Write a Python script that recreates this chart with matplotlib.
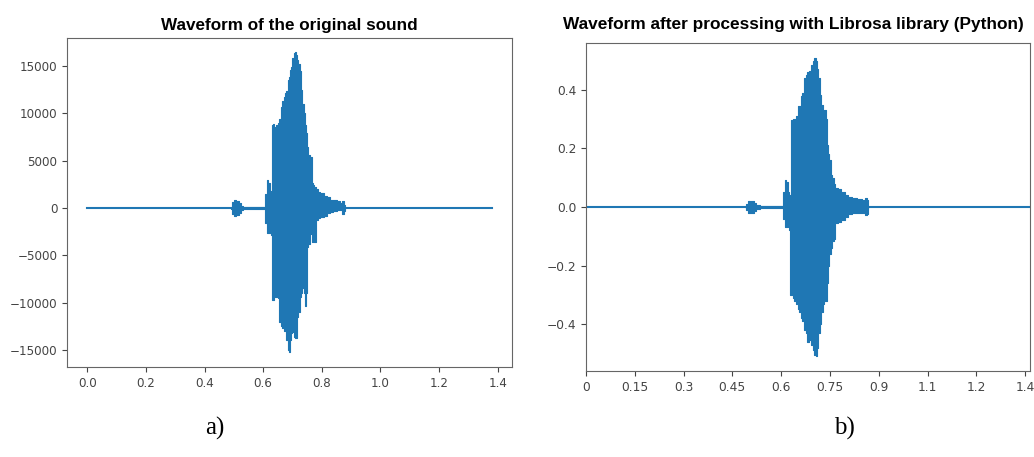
import matplotlib
matplotlib.use("Agg")
import matplotlib.pyplot as plt

# envelope of the original waveform (int16 amplitude)
orig_t = [0.490, 0.492, 0.497, 0.503, 0.510, 0.516, 0.521, 0.526, 0.535, 0.550, 0.580, 0.605,
          0.611, 0.615, 0.620, 0.625, 0.630, 0.632, 0.636, 0.641, 0.647, 0.652, 0.657, 0.662,
          0.667, 0.672, 0.677, 0.682, 0.687, 0.690, 0.694, 0.698, 0.702, 0.706, 0.710, 0.714,
          0.718, 0.722, 0.727, 0.731, 0.736, 0.740, 0.744, 0.748, 0.752, 0.757, 0.761, 0.764,
          0.767, 0.772, 0.777, 0.781, 0.790, 0.800, 0.812, 0.823, 0.834, 0.845, 0.856, 0.866,
          0.872, 0.877, 0.879]
orig_top = [0, 150, 650, 800, 780, 700, 500, 250, 150, 120, 100, 110,
            1500, 2950, 2600, 1700, 1800, 8760, 8900, 8600, 8800, 9000, 9400, 10700,
            11300, 11700, 12200, 12400, 13500, 13800, 14600, 14900, 15900, 16400, 16500, 16200,
            15600, 15200, 14500, 12500, 11000, 10000, 8800, 7900, 6500, 5600, 5400, 5400,
            2600, 2400, 2250, 2000, 1720, 1600, 1300, 1150, 850, 800, 750, 550,
            700, 300, 0]
orig_bot = [0, -150, -650, -800, -780, -700, -500, -250, -150, -120, -100, -110,
            -1600, -2600, -2600, -2640, -2800, -9700, -9700, -9400, -9400, -9500, -12000, -12500,
            -12700, -13000, -13000, -13900, -15000, -15200, -14000, -13200, -13100, -13600, -13700, -13700,
            -11500, -11000, -9400, -9000, -8500, -9000, -10400, -9000, -4100, -3800, -2640, -2700,
            -3560, -3500, -3560, -1270, -1100, -1000, -800, -560, -450, -350, -250, -250,
            -600, -300, 0]

# envelope after librosa load (float amplitude)
lib_t = [0.490, 0.494, 0.500, 0.507, 0.514, 0.520, 0.528, 0.540, 0.575, 0.605,
         0.609, 0.613, 0.618, 0.622, 0.627, 0.630, 0.633, 0.638, 0.643, 0.648,
         0.653, 0.658, 0.663, 0.668, 0.673, 0.678, 0.684, 0.689, 0.694, 0.699,
         0.704, 0.708, 0.712, 0.716, 0.720, 0.725, 0.730, 0.735, 0.739, 0.743,
         0.747, 0.750, 0.754, 0.759, 0.764, 0.769, 0.780, 0.790, 0.800, 0.812,
         0.825, 0.840, 0.855, 0.862, 0.866, 0.869]
lib_top = [0.0, 0.010, 0.020, 0.022, 0.020, 0.012, 0.006, 0.004, 0.003, 0.004,
           0.050, 0.092, 0.085, 0.050, 0.041, 0.040, 0.297, 0.300, 0.300, 0.310,
           0.345, 0.345, 0.380, 0.390, 0.440, 0.450, 0.460, 0.465, 0.485, 0.500,
           0.510, 0.500, 0.470, 0.440, 0.383, 0.350, 0.326, 0.330, 0.300, 0.212,
           0.180, 0.160, 0.110, 0.100, 0.080, 0.065, 0.060, 0.050, 0.042, 0.035,
           0.032, 0.028, 0.025, 0.030, 0.024, 0.0]
lib_bot = [0.0, -0.010, -0.020, -0.022, -0.020, -0.012, -0.006, -0.004, -0.003, -0.004,
           -0.040, -0.068, -0.070, -0.060, -0.080, -0.300, -0.300, -0.310, -0.320, -0.330,
           -0.350, -0.360, -0.380, -0.390, -0.420, -0.430, -0.460, -0.455, -0.470, -0.490,
           -0.505, -0.510, -0.480, -0.430, -0.400, -0.360, -0.330, -0.320, -0.320, -0.260,
           -0.200, -0.160, -0.140, -0.115, -0.110, -0.056, -0.050, -0.045, -0.035, -0.025,
           -0.022, -0.020, -0.020, -0.028, -0.024, 0.0]

duration = [0.0, 1.38]
silence = [0.0, 0.0]

lib_ticks = [0, 0.15, 0.30, 0.45, 0.60, 0.75, 0.90, 1.05, 1.20, 1.35]
lib_ticklabels = ["0", "0.15", "0.3", "0.45", "0.6", "0.75", "0.9", "1.1", "1.2", "1.4"]

blue = "#1f77b4"
tick_col = "#444444"
title_font = ["Liberation Sans", "DejaVu Sans"]
serif_font = ["Liberation Serif", "DejaVu Serif"]

fig = plt.figure(figsize=(10.34, 4.57), dpi=100)

# a) original sound
ax1 = fig.add_axes([0.0648, 0.197, 0.4304, 0.72])
ax1.plot(duration, silence, color=blue, lw=1.5)
ax1.fill_between(orig_t, orig_bot, orig_top, step="mid", color=blue, lw=0.8, edgecolor=blue)
ax1.set_xlim(-0.069, 1.449)
ax1.set_ylim(-16800, 17980)
ax1.set_xticks([0.0, 0.2, 0.4, 0.6, 0.8, 1.0, 1.2, 1.4])
ax1.set_yticks([-15000, -10000, -5000, 0, 5000, 10000, 15000])
ax1.set_title("Waveform of the original sound", fontsize=12.3, fontweight="bold",
              family=title_font, pad=6)
ax1.tick_params(labelsize=8.6, colors=tick_col)

# b) after librosa
ax2 = fig.add_axes([0.5667, 0.1882, 0.4294, 0.7177])
ax2.plot(duration, silence, color=blue, lw=1.5)
ax2.fill_between(lib_t, lib_bot, lib_top, step="mid", color=blue, lw=0.8, edgecolor=blue)
ax2.set_xlim(0, 1.365)
ax2.set_ylim(-0.56, 0.56)
ax2.set_xticks(lib_ticks)
ax2.set_xticklabels(lib_ticklabels)
ax2.set_yticks([-0.4, -0.2, 0.0, 0.2, 0.4])
ax2.set_title("Waveform after processing with Librosa library (Python)", fontsize=12.4,
              fontweight="bold", family=title_font, x=0.468, pad=10)
ax2.tick_params(labelsize=8.8, colors=tick_col)

for ax in (ax1, ax2):
    for sp in ax.spines.values():
        sp.set_color("#666666")

fig.text(0.208, 0.063, "a)", fontsize=18, family=serif_font, ha="center", va="center")
fig.text(0.817, 0.063, "b)", fontsize=18, family=serif_font, ha="center", va="center")

fig.savefig("out.png", dpi=100)
